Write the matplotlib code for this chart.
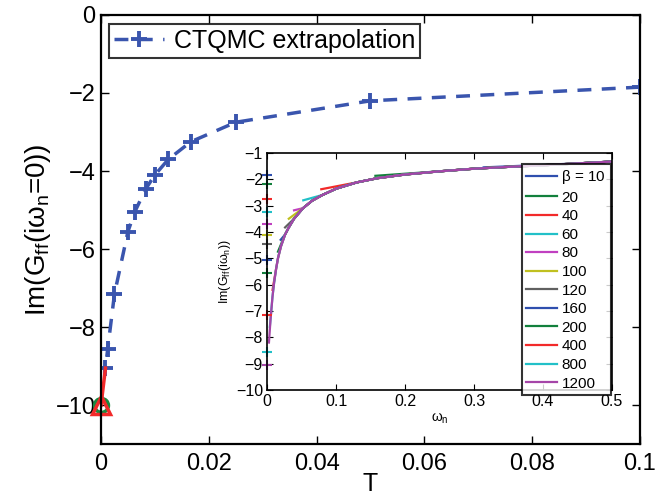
import matplotlib
matplotlib.use("Agg")
import matplotlib.pyplot as plt
import numpy as np

plt.rcParams['font.family'] = ['Liberation Sans', 'DejaVu Sans']
plt.rcParams['mathtext.fontset'] = 'custom'
plt.rcParams['mathtext.rm'] = 'Liberation Sans'
plt.rcParams['mathtext.it'] = 'Liberation Sans'

# ---- data ----
betas = [10, 20, 40, 60, 80, 100, 120, 160, 200, 400, 800, 1200]
T_values = [0.1, 0.05, 0.025, 1/60, 0.0125, 0.01, 1/120, 0.00625, 0.005, 0.0025, 0.00125, 1/1200]
extrap_values = [-1.85, -2.2, -2.75, -3.25, -3.7, -4.1, -4.45, -5.05, -5.55, -7.15, -8.55, -9.05]

zeroT_T = [0.0]
zeroT_value = [-10.0]

# first Matsubara point of each curve (omega_0, value)
first_omega = [0.314, 0.157, 0.0785, 0.0524, 0.039, 0.0314, 0.026, 0.0196, 0.0157, 0.00785, 0.0039, 0.0026]
first_value = [-1.55, -1.87, -2.38, -2.8, -3.18, -3.5, -3.83, -4.3, -4.75, -6.2, -7.6, -8.2]

# common envelope
env_omega = [0.0026, 0.005, 0.0078, 0.01, 0.013, 0.0157, 0.02, 0.026, 0.031, 0.039, 0.052,
             0.065, 0.08, 0.1, 0.13, 0.16, 0.2, 0.25, 0.3, 0.35, 0.4, 0.45, 0.5]
env_value = [-8.2, -7.3, -6.45, -5.95, -5.4, -5.0, -4.55, -4.1, -3.85, -3.5, -3.1,
             -2.82, -2.6, -2.36, -2.12, -1.96, -1.82, -1.7, -1.6, -1.53, -1.47, -1.4, -1.33]

colors = ['#2f4fae', '#12803c', '#f22a2a', '#22c0c8', '#c040c0', '#c0c020',
          '#606060', '#2f4fae', '#12803c', '#f22a2a', '#22c0c8', '#a545a8']

fig = plt.figure(figsize=(6.58, 4.98), dpi=100)
ax = fig.add_axes([0.1535, 0.108, 0.819, 0.862])

ax.plot(T_values, extrap_values, linestyle='--', color='#3a55ae', lw=2.5,
        marker='+', ms=12, mew=2.8, label='CTQMC extrapolation', dashes=(4, 3))
ax.plot([T_values[-1], zeroT_T[0]], [extrap_values[-1], zeroT_value[0]], color='#f22a2a', lw=2.5)
ax.plot(zeroT_T, zeroT_value, marker='o', ms=10, mfc='none', mec='#1a8a40', mew=2.5,
        linestyle='none', clip_on=False)
ax.plot(zeroT_T, zeroT_value, marker='^', ms=13, mfc='none', mec='#f22a2a', mew=2.5,
        linestyle='none', clip_on=False)

ax.set_xlim(0, 0.1)
ax.set_ylim(-11, 0)
ax.set_xticks([0, 0.02, 0.04, 0.06, 0.08, 0.1])
ax.set_xticklabels(['0', '0.02', '0.04', '0.06', '0.08', '0.1'])
ax.set_yticks([0, -2, -4, -6, -8, -10])
ax.set_yticklabels(['0', '\u22122', '\u22124', '\u22126', '\u22128', '\u221210'])
ax.tick_params(direction='in', top=True, right=True, labelsize=17, length=6, width=1, pad=6)
ax.tick_params(axis='y', pad=4)
for s in ax.spines.values():
    s.set_linewidth(1.6)
ax.set_xlabel('T', fontsize=18, labelpad=-2)
ax.set_ylabel(r'Im(G$_{\rm ff}$(i$\omega_{\rm n}$=0))', fontsize=20, labelpad=2)
leg = ax.legend(loc='upper left', fontsize=18, frameon=True, fancybox=False,
                edgecolor='black', borderpad=0.2, handlelength=2.0, handletextpad=0.4,
                bbox_to_anchor=(0.005, 0.99), borderaxespad=0.2)
leg.get_frame().set_linewidth(1.5)

# ---- inset ----
ins = fig.add_axes([0.406, 0.217, 0.524, 0.476])
for i, b in enumerate(betas):
    xs = [first_omega[i]] + [w for w in env_omega if w > first_omega[i] * 1.3]
    ys = [first_value[i]] + [v for w, v in zip(env_omega, env_value) if w > first_omega[i] * 1.3]
    lab = r'$\beta$ = %d' % b if i == 0 else str(b)
    ins.plot(xs, ys, color=colors[i], lw=1.6, label=lab)
for i in range(len(betas)):
    ins.plot([0], [extrap_values[i]], marker='+', color=colors[i], ms=7, mew=1.5,
             clip_on=False, linestyle='none')
ins.set_xlim(0, 0.5)
ins.set_ylim(-10, -1)
ins.set_xticks([0, 0.1, 0.2, 0.3, 0.4, 0.5])
ins.set_xticklabels(['0', '0.1', '0.2', '0.3', '0.4', '0.5'])
ins.set_yticks(list(range(-10, 0)))
ins.set_yticklabels(['\u2212%d' % k for k in range(10, 0, -1)])
ins.tick_params(direction='in', top=True, right=True, labelsize=11.5, length=4, pad=3)
for s in ins.spines.values():
    s.set_linewidth(1.2)
ins.set_xlabel(r'$\omega_{\rm n}$', fontsize=10, labelpad=2)
ins.set_ylabel(r'Im(G$_{\rm ff}$(i$\omega_{\rm n}$))', fontsize=9, labelpad=2)
leg2 = ins.legend(loc='upper right', fontsize=11, frameon=True, fancybox=False,
                  edgecolor='black', labelspacing=0.3, handlelength=2.0,
                  borderpad=0.3, borderaxespad=0.0, handletextpad=0.3,
                  bbox_to_anchor=(0.996, 0.955))
leg2.get_frame().set_linewidth(1.5)

fig.savefig('out.png', dpi=100)
